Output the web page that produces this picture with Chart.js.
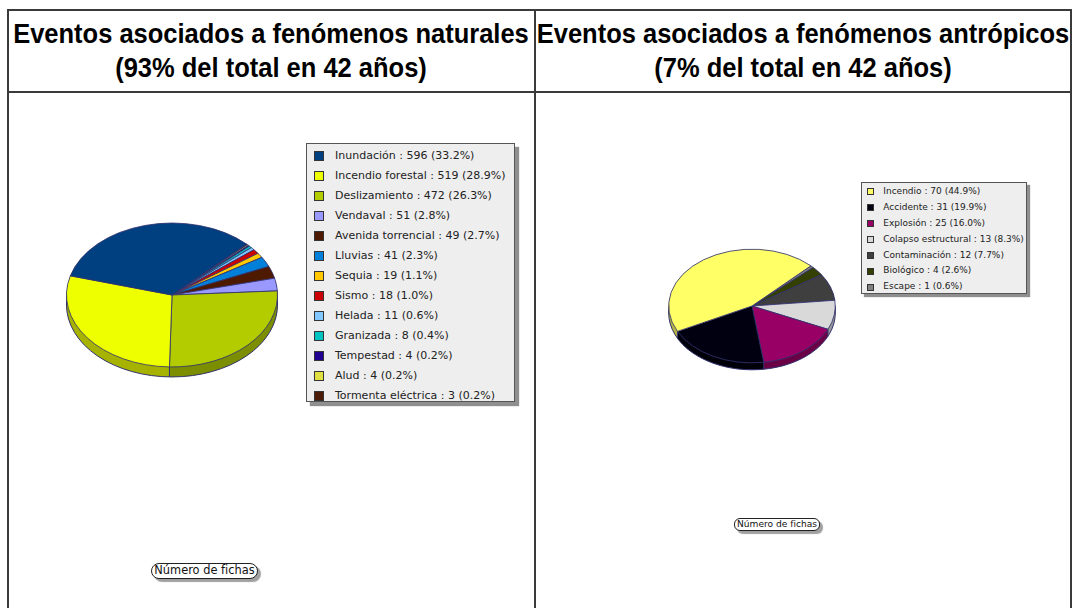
<!DOCTYPE html>
<html lang="es">
<head>
<meta charset="utf-8">
<title>Eventos asociados a fenómenos naturales y antrópicos</title>
<script src="https://cdn.jsdelivr.net/npm/chart.js@4.4.1/dist/chart.umd.min.js"></script>
<style>
  html, body { margin: 0; padding: 0; background: #fff; }
  body { width: 1073px; height: 608px; position: relative; overflow: hidden; }
  .rule { position: absolute; background: #3a3a3a; }
  .title {
    position: absolute; top: 17px; width: 600px; text-align: center; white-space: nowrap;
    font: bold 27px "Liberation Sans", Arial, sans-serif; line-height: 34px; color: #000;
    transform: scaleX(0.944);
  }
  canvas { position: absolute; }
  .legend {
    position: absolute; box-sizing: border-box; background: #eeeeee;
    border: 1px solid #555; box-shadow: 4px 4px 1px #8f8f8f;
    font-family: "DejaVu Sans", sans-serif; color: #222;
  }
  .legend .sw { position: absolute; box-sizing: border-box; border: 1px solid #333; }
  .legend .txt { position: absolute; white-space: nowrap; }
  .pill {
    position: absolute; box-sizing: border-box; text-align: center; white-space: nowrap;
    background: #fff; border: 1.5px solid #222; color: #111;
    font-family: "DejaVu Sans", sans-serif; box-shadow: 3px 3px 1px #a0a0a0;
  }
</style>
</head>
<body>

<div class="rule" style="left:7px; top:9px; width:1065px; height:2px"></div>
<div class="rule" style="left:7px; top:91px; width:1065px; height:2px"></div>
<div class="rule" style="left:7px; top:9px; width:2px; height:600px"></div>
<div class="rule" style="left:534px; top:9px; width:2px; height:600px"></div>
<div class="rule" style="left:1070px; top:9px; width:2px; height:600px"></div>

<div class="title" style="left:-29px">Eventos asociados a fenómenos naturales<br>(93% del total en 42 años)</div>
<div class="title" style="left:503px">Eventos asociados a fenómenos antrópicos<br>(7% del total en 42 años)</div>

<canvas id="naturales" width="240" height="240" style="left:52px; top:175px"></canvas>
<canvas id="antropicos" width="200" height="200" style="left:652px; top:206px"></canvas>

<div class="legend" id="legendNat" style="left:306px; top:143px; width:209px; height:259px"></div>
<div class="legend" id="legendAnt" style="left:861px; top:182px; width:166px; height:112px; box-shadow:3px 3px 1px #8f8f8f"></div>

<div class="pill" style="left:151px; top:563px; width:107px; height:16px; border-radius:8px; font-size:11.4px; line-height:13px">Número de fichas</div>
<div class="pill" style="left:734px; top:518px; width:86px; height:13px; border-radius:6px; font-size:9.1px; line-height:10.5px; border-width:1.2px">Número de fichas</div>

<script>
// Fenómenos naturales
const natLabels = ["Inundación", "Incendio forestal", "Deslizamiento", "Vendaval", "Avenida torrencial",
  "Lluvias", "Sequia", "Sismo", "Helada", "Granizada", "Tempestad", "Alud", "Tormenta eléctrica"];
const natValues = [596, 519, 472, 51, 49, 41, 19, 18, 11, 8, 4, 4, 3];
const natColors = ["#004080", "#eeff00", "#b3cc00", "#9999ff", "#4d1a00", "#0080d8", "#ffc800",
  "#cc0000", "#80c8ff", "#00c4c4", "#200090", "#e0e040", "#4a1c08"];

// Fenómenos antrópicos
const antLabels = ["Incendio", "Accidente", "Explosión", "Colapso estructural", "Contaminación", "Biológico", "Escape"];
const antValues = [70, 31, 25, 13, 12, 4, 1];
const antColors = ["#ffff66", "#000010", "#990066", "#d9d9d9", "#3f3f3f", "#334000", "#808080"];

const outline = "#333370";

function shade(hex, f) {
  const n = parseInt(hex.slice(1), 16);
  const r = Math.round(((n >> 16) & 255) * f);
  const g = Math.round(((n >> 8) & 255) * f);
  const b = Math.round((n & 255) * f);
  return "rgb(" + r + "," + g + "," + b + ")";
}

// tilted pie: darker side wall under the slices, then the top face squashed vertically
const pie3d = {
  id: "pie3d",
  beforeDatasetsDraw(chart, args, opts) {
    const ctx = chart.ctx;
    const arcs = chart.getDatasetMeta(0).data;
    const colors = chart.data.datasets[0].backgroundColor;
    const cx = arcs[0].x, cy = arcs[0].y, r = arcs[0].outerRadius;
    const t = opts.tilt, depth = opts.depth;

    ctx.save();
    ctx.translate(cx, cy);
    ctx.scale(1, t);
    ctx.translate(-cx, -cy);
    for (let d = depth; d > 0; d -= 0.5) {
      const y = cy + d / t;
      arcs.forEach((arc, i) => {
        ctx.beginPath();
        ctx.moveTo(cx, y);
        ctx.arc(cx, y, r, arc.startAngle, arc.endAngle);
        ctx.closePath();
        ctx.fillStyle = shade(colors[i], 0.7);
        ctx.fill();
      });
    }
    ctx.restore();

    ctx.save();
    ctx.strokeStyle = opts.outline;
    ctx.lineWidth = 1;
    ctx.beginPath();
    ctx.ellipse(cx, cy + depth, r, r * t, 0, 0, Math.PI);
    ctx.moveTo(cx + r, cy);
    ctx.lineTo(cx + r, cy + depth);
    ctx.moveTo(cx - r, cy);
    ctx.lineTo(cx - r, cy + depth);
    arcs.forEach(arc => {
      const a = arc.startAngle;
      if (Math.sin(a) > 0.05) {
        const px = cx + r * Math.cos(a), py = cy + r * t * Math.sin(a);
        ctx.moveTo(px, py);
        ctx.lineTo(px, py + depth);
      }
    });
    ctx.stroke();
    ctx.restore();

    ctx.save();
    ctx.translate(cx, cy);
    ctx.scale(1, t);
    ctx.translate(-cx, -cy);
  },
  afterDatasetsDraw(chart) {
    chart.ctx.restore();
  }
};

// slices run anticlockwise from the upper right, so the dataset is fed in reverse
function makePie(id, labels, values, colors, radius, depth) {
  return new Chart(document.getElementById(id), {
    type: "pie",
    data: {
      labels: labels.slice().reverse(),
      datasets: [{
        data: values.slice().reverse(),
        backgroundColor: colors.slice().reverse(),
        borderColor: outline,
        borderWidth: 1
      }]
    },
    options: {
      responsive: false,
      animation: false,
      events: [],
      rotation: 45,
      radius: radius,
      plugins: {
        legend: { display: false },
        tooltip: { enabled: false },
        pie3d: { tilt: 0.682, depth: depth, outline: outline }
      }
    },
    plugins: [pie3d]
  });
}

function buildLegend(id, labels, values, colors, cfg) {
  const box = document.getElementById(id);
  const total = values.reduce((s, v) => s + v, 0);
  labels.forEach((name, i) => {
    const cy = cfg.first + i * cfg.pitch;
    const sw = document.createElement("div");
    sw.className = "sw";
    sw.style.cssText = "left:" + cfg.swX + "px;top:" + (cy - cfg.sw / 2) + "px;width:" + cfg.sw +
      "px;height:" + cfg.sw + "px;background:" + colors[i];
    box.appendChild(sw);
    const txt = document.createElement("div");
    txt.className = "txt";
    txt.style.cssText = "left:" + cfg.textX + "px;top:" + (cy - cfg.pitch / 2) + "px;line-height:" +
      cfg.pitch + "px;font-size:" + cfg.font + "px";
    txt.textContent = name + " : " + values[i] + " (" + (values[i] / total * 100).toFixed(1) + "%)";
    box.appendChild(txt);
  });
}

makePie("naturales", natLabels, natValues, natColors, 105.5, 10);
makePie("antropicos", antLabels, antValues, antColors, 83.3, 7);

buildLegend("legendNat", natLabels, natValues, natColors, { first: 11.7, pitch: 20, sw: 10, swX: 7, textX: 28, font: 11 });
buildLegend("legendAnt", antLabels, antValues, antColors, { first: 8.7, pitch: 15.95, sw: 7.5, swX: 4.5, textX: 21.3, font: 9 });
</script>
</body>
</html>
